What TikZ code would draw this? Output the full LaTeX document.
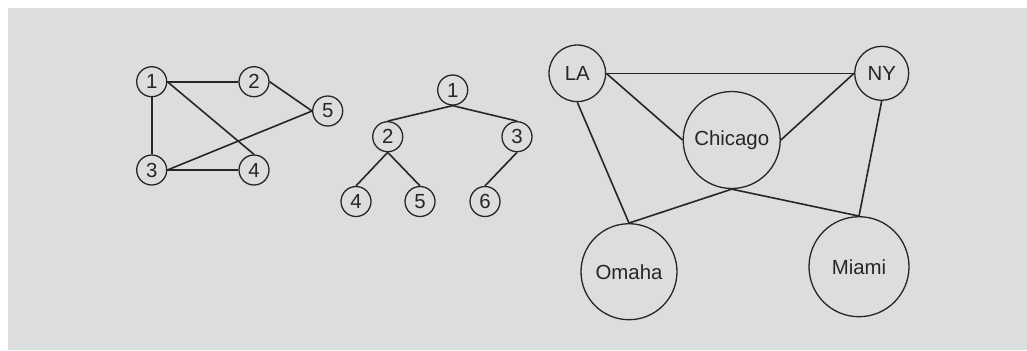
\documentclass[tikz,border=0pt]{standalone}
\usepackage{fontspec}
\setmainfont{Liberation Sans}
\definecolor{panelgray}{RGB}{220,221,223}
\definecolor{inkgray}{RGB}{38,38,38}

\begin{document}
\begin{tikzpicture}[
  x=0.5pt, y=-0.5pt,
  vertex/.style={draw=inkgray, circle, inner sep=0pt, minimum size=15pt, line width=0.65pt, text=inkgray, font=\fontsize{10.2}{12}\selectfont},
  city/.style={vertex, minimum size=#1},
  edge/.style={draw=inkgray, line width=0.8pt}
]
\useasboundingbox (0,0) rectangle (1027,350);
\fill[panelgray] (8,8) rectangle (1027,350);

\node[vertex] (g1) at (151.7,81.7) {1};
\node[vertex] (g2) at (254,81.7) {2};
\node[vertex] (g5) at (327.7,111) {5};
\node[vertex] (g3) at (151.7,170) {3};
\node[vertex] (g4) at (254,170) {4};

\node[vertex] (t1) at (452.7,90) {1};
\node[vertex] (t2) at (387.7,136.7) {2};
\node[vertex] (t3) at (517,136.7) {3};
\node[vertex] (t4) at (356,201.5) {4};
\node[vertex] (t5) at (420,201.5) {5};
\node[vertex] (t6) at (485,201.5) {6};

\node[city=28.3pt] (la) at (577.3,73.3) {LA};
\node[city=27pt] (ny) at (881.7,73.3) {NY};
\node[city=48.5pt] (chicago) at (731.7,140) {Chicago};
\node[city=48pt] (omaha) at (629,271.7) {Omaha};
\node[city=50pt] (miami) at (859,266.7) {Miami};

\draw[edge] (g1.east) -- (g2.west);
\draw[edge] (g1.south) -- (g3.north);
\draw[edge] (g1.east) -- (g4.north);
\draw[edge] (g2.east) -- (g5.west);
\draw[edge] (g3.east) -- (g5.west);
\draw[edge] (g3.east) -- (g4.west);

\draw[edge] (t1.south) -- (t2.north);
\draw[edge] (t1.south) -- (t3.north);
\draw[edge] (t2.south) -- (t4.north);
\draw[edge] (t2.south) -- (t5.north);
\draw[edge] (t3.south) -- (t6.north);

\draw[edge] (la.east) -- (ny.west);
\draw[edge] (la.east) -- (chicago.west);
\draw[edge] (ny.west) -- (chicago.east);
\draw[edge] (la.south) -- (omaha.north);
\draw[edge] (ny.south) -- (miami.north);
\draw[edge] (chicago.south) -- (omaha.north);
\draw[edge] (chicago.south) -- (miami.north);
\end{tikzpicture}
\end{document}
